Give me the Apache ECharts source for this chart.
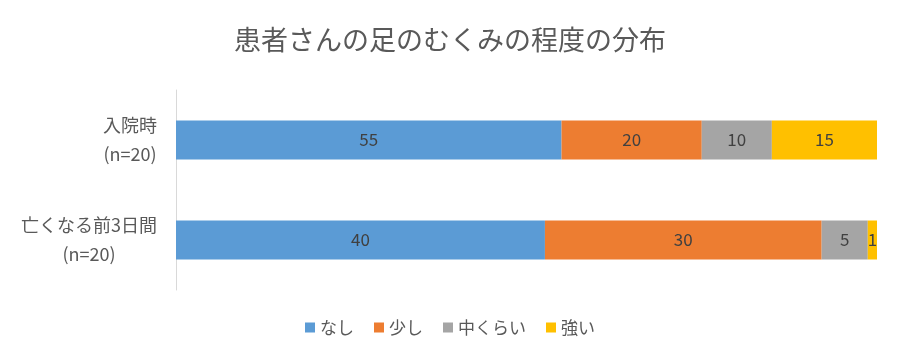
<!DOCTYPE html>
<html><head><meta charset="utf-8">
<script src="https://cdn.jsdelivr.net/npm/echarts@6/dist/echarts.min.js"></script>
<style>html,body{margin:0;padding:0;background:#fff}#c{width:900px;height:360px}</style>
</head><body><div id="c"></div>
<script>
const title = '患者さんの足のむくみの程度の分布';
const categories = ['入院時\n(n=20)', '亡くなる前3日間\n(n=20)'];
const seriesNames = ['なし', '少し', '中くらい', '強い'];
const colors = ['#5B9BD5', '#ED7D31', '#A5A5A5', '#FFC000'];
const valNone = [55, 40];
const valLittle = [20, 30];
const valMedium = [10, 5];
const valStrong = [15, 1];

const raw = [valNone, valLittle, valMedium, valStrong];
const totals = categories.map((_, i) => raw.reduce((s, a) => s + a[i], 0));
const font = '"Noto Sans CJK JP", "Noto Sans", sans-serif';
const axisFontSize = 18;

// measure label line widths so lines can be centred within a right-aligned block
const cv = document.createElement('canvas').getContext('2d');
cv.font = axisFontSize + 'px ' + font;
const rich = {};
categories.forEach((c, i) => {
  const w = Math.max(...c.split('\n').map(s => cv.measureText(s).width));
  rich['r' + i] = { width: Math.ceil(w), align: 'center', lineHeight: 29,
    fontFamily: font, fontSize: axisFontSize, color: '#595959' };
});

const series = raw.map((arr, k) => ({
  name: seriesNames[k],
  type: 'bar',
  stack: 'all',
  barWidth: 39,
  itemStyle: { color: colors[k] },
  label: {
    show: true, position: 'inside', color: '#404040',
    fontFamily: font, fontSize: 17,
    formatter: p => String(arr[p.dataIndex])
  },
  data: arr.map((v, i) => v / totals[i] * 100)
}));

const chart = echarts.init(document.getElementById('c'));
chart.setOption({
  animation: false,
  color: colors,
  title: {
    text: title, left: 'center', top: 21,
    textStyle: { fontFamily: font, fontSize: 27, fontWeight: 'normal', color: '#595959' }
  },
  legend: {
    bottom: 19, left: 'center', itemWidth: 10, itemHeight: 10, itemGap: 20,
    icon: 'rect',
    textStyle: { fontFamily: font, fontSize: 17, color: '#595959' },
    data: seriesNames
  },
  grid: { left: 176, right: 23, top: 90, bottom: 70 },
  xAxis: { type: 'value', min: 0, max: 100, show: false },
  yAxis: {
    type: 'category', inverse: true, data: categories,
    axisLine: { lineStyle: { color: '#D9D9D9', width: 1 } },
    axisTick: { show: false },
    axisLabel: {
      margin: 19, align: 'right',
      formatter: (v, i) => v.split('\n').map(s => '{r' + i + '|' + s + '}').join('\n'),
      rich: rich
    }
  },
  series: series
});
</script></body></html>
